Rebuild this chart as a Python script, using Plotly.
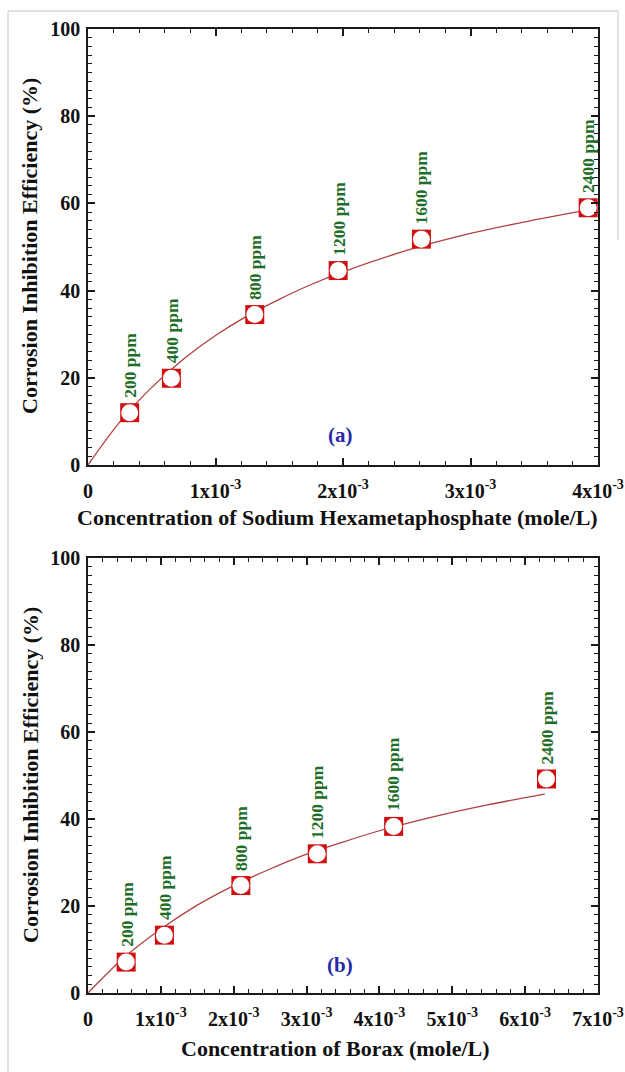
import plotly.graph_objects as go

W, H = 625, 1072

# ---------------- data ----------------
ppm_labels = ["200 ppm", "400 ppm", "800 ppm", "1200 ppm", "1600 ppm", "2400 ppm"]

shmp_conc = [0.327e-3, 0.654e-3, 1.308e-3, 1.962e-3, 2.615e-3, 3.923e-3]
shmp_ie = [12.0, 19.9, 34.5, 44.6, 51.8, 59.0]
shmp_fit_x = [0, 0.25e-3, 0.5e-3, 0.75e-3, 1.0e-3, 1.25e-3, 1.5e-3, 1.75e-3, 2.0e-3, 2.5e-3, 3.0e-3, 3.5e-3, 3.88e-3]
shmp_fit_y = [0, 9.9, 17.8, 24.3, 29.7, 34.2, 38.0, 41.4, 44.3, 49.2, 53.1, 56.2, 58.3]

borax_conc = [0.524e-3, 1.049e-3, 2.098e-3, 3.147e-3, 4.195e-3, 6.293e-3]
borax_ie = [7.1, 13.3, 24.7, 32.0, 38.3, 49.2]
borax_fit_x = [0, 0.5e-3, 1.0e-3, 1.5e-3, 2.0e-3, 2.5e-3, 3.0e-3, 3.5e-3, 4.0e-3, 4.5e-3, 5.0e-3, 5.5e-3, 6.0e-3, 6.27e-3]
borax_fit_y = [0, 8.2, 14.7, 20.2, 24.7, 28.5, 31.9, 34.7, 37.3, 39.5, 41.5, 43.3, 44.9, 45.7]

x1_ticks = [0, 1e-3, 2e-3, 3e-3, 4e-3]
x1_text = ["0", "1x10<sup>-3</sup>", "2x10<sup>-3</sup>", "3x10<sup>-3</sup>", "4x10<sup>-3</sup>"]
x2_ticks = [0, 1e-3, 2e-3, 3e-3, 4e-3, 5e-3, 6e-3, 7e-3]
x2_text = ["0"] + [f"{i}x10<sup>-3</sup>" for i in range(1, 8)]

# ---------------- styling ----------------
SERIF = "Liberation Serif"
RED = "#d01010"
CURVE = "#b04040"
GREEN = "#1f6e28"
BLUE = "#2a2aa8"
AX = "#1a1a1a"

def px_x(p):
    return p / W

def px_y(p):
    return 1 - p / H

fig = go.Figure()

panels = [
    ("x", "y", shmp_conc, shmp_ie, shmp_fit_x, shmp_fit_y),
    ("x2", "y2", borax_conc, borax_ie, borax_fit_x, borax_fit_y),
]
for xa, ya, cx, cy, fx, fy in panels:
    fig.add_trace(go.Scatter(x=fx, y=fy, xaxis=xa, yaxis=ya, mode="lines",
                             line=dict(color=CURVE, width=1.3, shape="spline"),
                             hoverinfo="skip", showlegend=False))
    fig.add_trace(go.Scatter(x=cx, y=cy, xaxis=xa, yaxis=ya, mode="markers",
                             marker=dict(symbol="square", size=19, color=RED,
                                         line=dict(width=0)),
                             cliponaxis=False, showlegend=False))
    fig.add_trace(go.Scatter(x=cx, y=cy, xaxis=xa, yaxis=ya, mode="markers",
                             marker=dict(symbol="circle", size=17, color="white",
                                         line=dict(width=0)),
                             cliponaxis=False, showlegend=False))
    for xv, yv, lab in zip(cx, cy, ppm_labels):
        fig.add_annotation(x=xv, y=yv, xref=xa, yref=ya, text=lab, textangle=-90,
                           showarrow=False, xanchor="center", yanchor="bottom",
                           yshift=13,
                           font=dict(family=SERIF, size=17.5, color=GREEN, weight="bold"))

fig.add_annotation(x=1.98e-3, y=6.9, xref="x", yref="y", text="(a)", showarrow=False,
                   xanchor="center", yanchor="middle",
                   font=dict(family=SERIF, size=21, color=BLUE, weight="bold"))
fig.add_annotation(x=3.46e-3, y=6.4, xref="x2", yref="y2", text="(b)", showarrow=False,
                   xanchor="center", yanchor="middle",
                   font=dict(family=SERIF, size=21, color=BLUE, weight="bold"))

tickfont = dict(family=SERIF, size=20, color="#111", weight="bold")

def xaxis_cfg(domain, rng, tv, tt, anchor):
    return dict(domain=domain, range=rng, anchor=anchor, tickmode="array", tickvals=tv,
                ticktext=tt, ticks="inside", ticklen=7, tickwidth=1.5, tickcolor=AX,
                showline=True, linecolor=AX, linewidth=1.6, mirror="ticks",
                showgrid=False, zeroline=False, tickfont=tickfont, automargin=False,
                ticklabelstandoff=7,
                minor=dict(tickmode="linear", tick0=0, dtick=0.0002, ticks="inside",
                           ticklen=4, tickwidth=1.2, tickcolor=AX, showgrid=False))

def yaxis_cfg(domain, anchor):
    return dict(domain=domain, range=[0, 100], anchor=anchor, tickmode="linear", tick0=0,
                dtick=20, ticks="inside", ticklen=7, tickwidth=1.5, tickcolor=AX,
                showline=True, linecolor=AX, linewidth=1.6, mirror="ticks",
                showgrid=False, zeroline=False, tickfont=tickfont, automargin=False,
                ticklabelstandoff=2,
                minor=dict(tickmode="linear", tick0=0, dtick=2, ticks="inside",
                           ticklen=4, tickwidth=1.2, tickcolor=AX, showgrid=False))

xdom = [px_x(88), px_x(598)]
fig.update_layout(
    width=W, height=H, autosize=False, margin=dict(l=0, r=0, t=0, b=0, pad=0, autoexpand=False),
    paper_bgcolor="white", plot_bgcolor="white", showlegend=False,
    xaxis=xaxis_cfg(xdom, [0, 0.004], x1_ticks, x1_text, "y"),
    yaxis=yaxis_cfg([px_y(465), px_y(29)], "x"),
    xaxis2=xaxis_cfg(xdom, [0, 0.007], x2_ticks, x2_text, "y2"),
    yaxis2=yaxis_cfg([px_y(993), px_y(558)], "x2"),
)

titlefont = dict(family=SERIF, size=22, color="#111", weight="bold")
ytitle = "Corrosion Inhibition Efficiency (%)"
common = dict(xref="paper", yref="paper", showarrow=False, xanchor="center",
              yanchor="middle", font=titlefont)
fig.add_annotation(x=px_x(30), y=px_y(246), text=ytitle, textangle=-90, **common)
fig.add_annotation(x=px_x(30), y=px_y(775), text=ytitle, textangle=-90, **common)
fig.add_annotation(x=px_x(338), y=px_y(517),
                   text="Concentration of Sodium Hexametaphosphate (mole/L)", **common)
fig.add_annotation(x=px_x(335), y=px_y(1048), text="Concentration of Borax (mole/L)", **common)

# faint outer frame of the figure
frame = dict(color="#d8d8d8", width=1.5)
fig.add_shape(type="line", xref="paper", yref="paper", x0=px_x(8), x1=px_x(8),
              y0=0, y1=px_y(11), line=frame)
fig.add_shape(type="line", xref="paper", yref="paper", x0=px_x(8), x1=px_x(618),
              y0=px_y(11), y1=px_y(11), line=frame)
fig.add_shape(type="line", xref="paper", yref="paper", x0=px_x(618), x1=px_x(618),
              y0=px_y(240), y1=px_y(11), line=frame)

fig.write_html("out.html")
